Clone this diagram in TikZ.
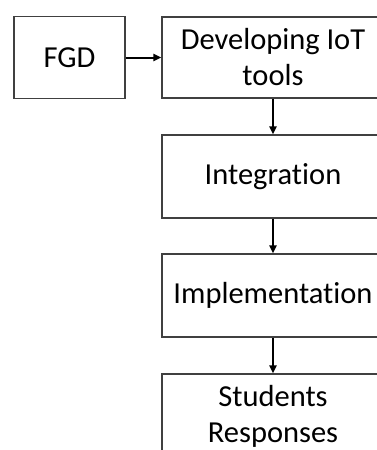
\documentclass[tikz,border=0pt]{standalone}
\usepackage{fontspec}
\setmainfont{Carlito}[Ligatures=NoCommon]
\usetikzlibrary{arrows.meta}
\begin{document}
\begin{tikzpicture}[x=1pt,y=-1pt,
  box/.style={draw=black!75,line width=1.2pt,rectangle,inner sep=0pt,
    font=\fontsize{30.5}{36}\selectfont,text=black,align=center},
  conn/.style={line width=2pt,-{Triangle[length=8pt,width=7pt]}}]
\useasboundingbox (0,0) rectangle (376,450);
\node[box,minimum width=111pt,minimum height=82pt] (fgd) at (69.5,57.5) {FGD};
\node[box,minimum width=222pt,minimum height=81pt] (dev) at (273,57.5) {Developing IoT\\tools};
\node[box,minimum width=222pt,minimum height=83pt] (int) at (273,176.5) {Integration};
\node[box,minimum width=222pt,minimum height=83pt] (imp) at (273,295.5) {Implementation};
\node[box,minimum width=222pt,minimum height=84pt] (stu) at (273,416) {Students\\Responses};
\draw[conn] (fgd.east) -- (dev.west);
\draw[conn] (dev.south) -- (int.north);
\draw[conn] (int.south) -- (imp.north);
\draw[conn] (imp.south) -- (stu.north);
\end{tikzpicture}
\end{document}
